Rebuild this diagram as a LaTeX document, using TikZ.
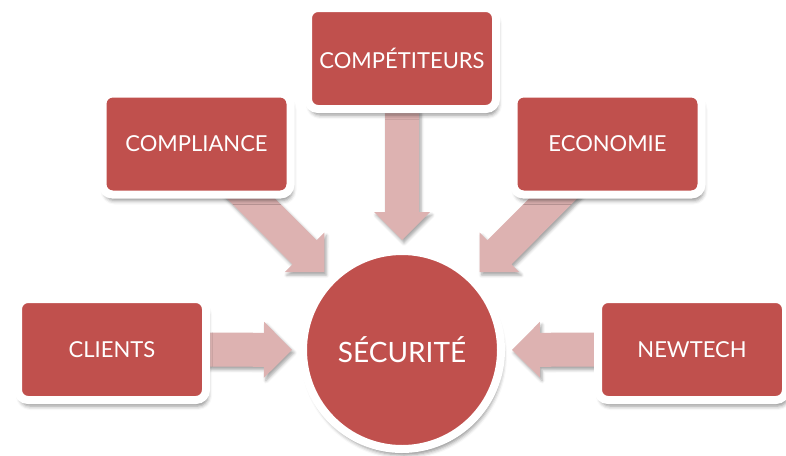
\documentclass[tikz,border=0pt]{standalone}
\usepackage{fontspec}
\setmainfont{Lato}
\usetikzlibrary{calc,shadows.blur,backgrounds}
\definecolor{boxred}{HTML}{C0504D}
\definecolor{arrowpink}{HTML}{DDB2B1}
\tikzset{
  card/.style={draw=white, line width=8pt, fill=boxred, rounded corners=10pt,
    minimum width=188pt, minimum height=101pt, text=white,
    font=\fontsize{22}{26}\selectfont,
    blur shadow={shadow xshift=2pt, shadow yshift=-6pt, shadow blur radius=4pt, shadow opacity=45}},
  hub/.style={circle, draw=white, line width=8pt, fill=boxred, minimum size=198pt,
    text=white, font=\fontsize{28}{32}\selectfont,
    blur shadow={shadow xshift=2pt, shadow yshift=-6pt, shadow blur radius=4pt, shadow opacity=45}},
  arrowbody/.style={fill=arrowpink,
    blur shadow={shadow xshift=2pt, shadow yshift=-3pt, shadow blur radius=3pt, shadow opacity=35}}
}
\newcommand\blockarrow[2]{%
  \coordinate (tipx) at ($(#2)!110pt!(#1)$);
  \coordinate (basex) at ($(tipx)!28pt!(#1)$);
  \path[arrowbody] ($(#1)!17pt!90:(tipx)$) -- ($(basex)!17pt!90:(tipx)$)
    -- ($(basex)!28pt!90:(tipx)$) -- (tipx) -- ($(basex)!28pt!-90:(tipx)$)
    -- ($(basex)!17pt!-90:(tipx)$) -- ($(#1)!17pt!-90:(tipx)$) -- cycle;}
\begin{document}
\begin{tikzpicture}[x=1pt, y=-1pt]
  \useasboundingbox (0,0) rectangle (786,455);
  \node[card] (comp) at (402,58.5) {COMPÉTITEURS};
  \node[card] (compl) at (196.5,144) {COMPLIANCE};
  \node[card] (eco) at (607.5,144) {ECONOMIE};
  \node[card] (cli) at (112,349.5) {CLIENTS};
  \node[card] (new) at (692,349.5) {NEWTECH};
  \node[hub] (sec) at (402,350) {SÉCURITÉ};
  \begin{pgfonlayer}{background}
    \blockarrow{comp}{sec}
    \blockarrow{compl}{sec}
    \blockarrow{eco}{sec}
    \blockarrow{cli}{sec}
    \blockarrow{new}{sec}
  \end{pgfonlayer}
\end{tikzpicture}
\end{document}
